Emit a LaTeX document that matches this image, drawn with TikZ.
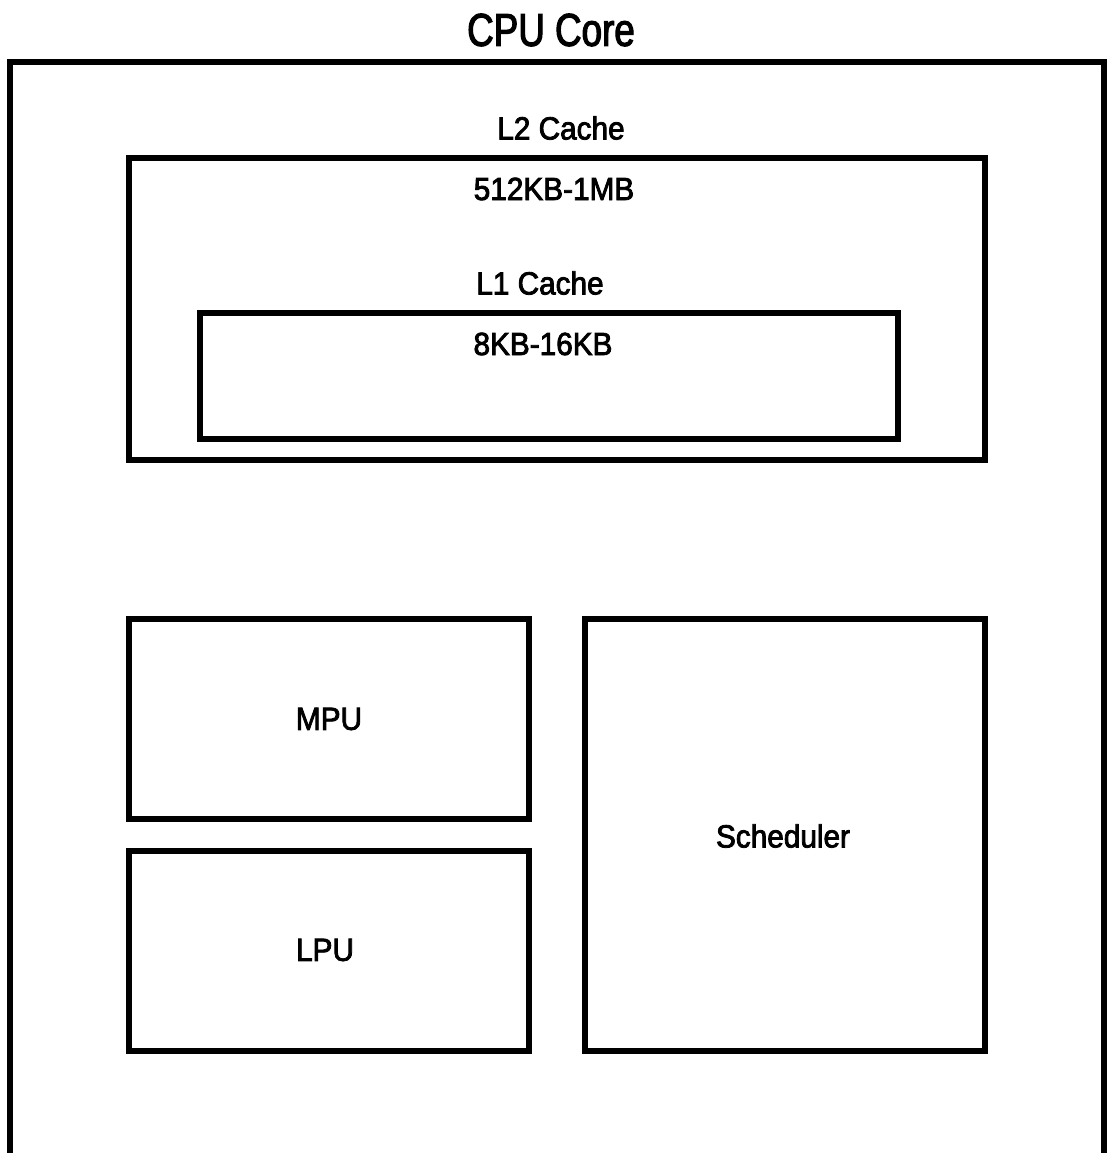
\documentclass[tikz,border=0pt]{standalone}
\usepackage{fontspec}
\setmainfont[FakeStretch=0.8,FakeBold=2.5]{Liberation Sans}
\newfontfamily\lblfont[FakeStretch=0.93,FakeBold=2.5]{Liberation Sans}
\begin{document}
\begin{tikzpicture}[x=1pt,y=-1pt,
  box/.style={draw=black,line width=5.5pt,inner sep=0pt,outer sep=0pt,fill=none},
  lbl/.style={inner sep=0pt,font=\lblfont\fontsize{32}{38}\selectfont},
  ttl/.style={inner sep=0pt,font=\fontsize{46}{52}\selectfont}]
\useasboundingbox[fill=white] (0,0) rectangle (1109,1153);
\node[ttl] (title) at (551,30) {CPU Core};
\draw[line width=6pt] (10,1170) coordinate (obl) -- (10,62) coordinate (otl) -- (1104,62) coordinate (otr) -- (1104,1170) coordinate (obr);
\node[lbl] (l2lbl) at (561,128) {L2 Cache};
\node[box,minimum width=856pt,minimum height=302pt] (l2) at (557,309) {};
\node[lbl] (l2size) at (554,189) {512KB-1MB};
\node[lbl] (l1lbl) at (540,283) {L1 Cache};
\node[box,minimum width=698pt,minimum height=126pt] (l1) at (549,376) {};
\node[lbl] (l1size) at (543,344) {8KB-16KB};
\node[box,minimum width=400pt,minimum height=200pt] (mpu) at (329,719) {};
\node[lbl] at (mpu.center) {MPU};
\node[box,minimum width=400pt,minimum height=200pt] (lpu) at (329,951) {};
\node[lbl] at (325,950) {LPU};
\node[box,minimum width=400pt,minimum height=432pt] (sched) at (785,835) {};
\node[lbl] at (783,836) {Scheduler};
\end{tikzpicture}
\end{document}
